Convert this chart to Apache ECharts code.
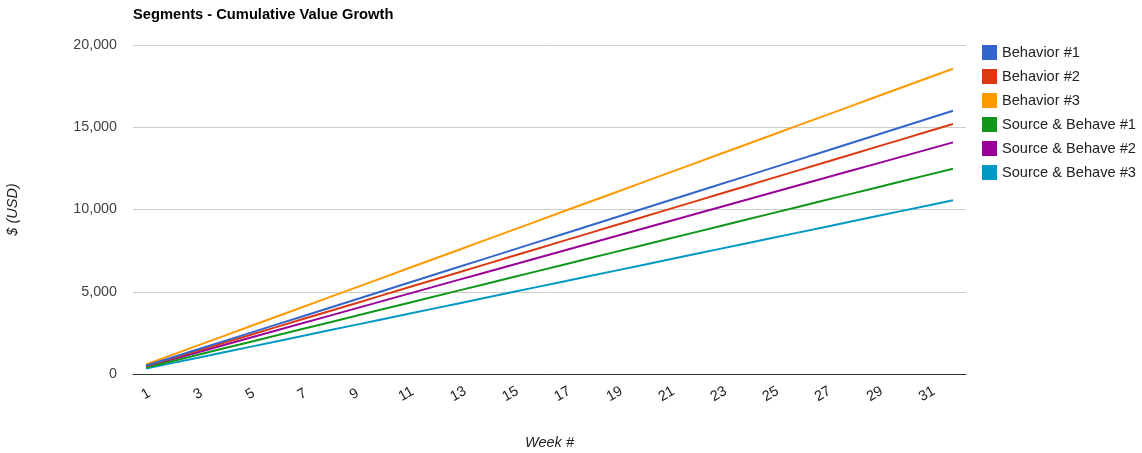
<!DOCTYPE html>
<html>
<head>
<meta charset="utf-8">
<script src="https://cdn.jsdelivr.net/npm/echarts@6/dist/echarts.min.js"></script>
<style>html,body{margin:0;padding:0;background:#fff}#c{width:1142px;height:453px}</style>
</head>
<body>
<div id="c"></div>
<script>
const weeks = ['1','2','3','4','5','6','7','8','9','10','11','12','13','14','15','16','17','18','19','20','21','22','23','24','25','26','27','28','29','30','31','32'];
const seriesNames = ['Behavior #1','Behavior #2','Behavior #3','Source & Behave #1','Source & Behave #2','Source & Behave #3'];
const behavior1 = [500,1000,1500,2000,2500,3000,3500,4000,4500,5000,5500,6000,6500,7000,7500,8000,8500,9000,9500,10000,10500,11000,11500,12000,12500,13000,13500,14000,14500,15000,15500,16000];
const behavior2 = [475,950,1425,1900,2375,2850,3325,3800,4275,4750,5225,5700,6175,6650,7125,7600,8075,8550,9025,9500,9975,10450,10925,11400,11875,12350,12825,13300,13775,14250,14725,15200];
const behavior3 = [580,1160,1740,2320,2900,3480,4060,4640,5220,5800,6380,6960,7540,8120,8700,9280,9860,10440,11020,11600,12180,12760,13340,13920,14500,15080,15660,16240,16820,17400,17980,18560];
const sourceBehave1 = [390,780,1170,1560,1950,2340,2730,3120,3510,3900,4290,4680,5070,5460,5850,6240,6630,7020,7410,7800,8190,8580,8970,9360,9750,10140,10530,10920,11310,11700,12090,12480];
const sourceBehave2 = [440,880,1320,1760,2200,2640,3080,3520,3960,4400,4840,5280,5720,6160,6600,7040,7480,7920,8360,8800,9240,9680,10120,10560,11000,11440,11880,12320,12760,13200,13640,14080];
const sourceBehave3 = [330,660,990,1320,1650,1980,2310,2640,2970,3300,3630,3960,4290,4620,4950,5280,5610,5940,6270,6600,6930,7260,7590,7920,8250,8580,8910,9240,9570,9900,10230,10560];
const allData = [behavior1, behavior2, behavior3, sourceBehave1, sourceBehave2, sourceBehave3];
const colors = ['#3366cc','#dc3912','#ff9900','#109618','#990099','#0099c6'];

const chart = echarts.init(document.getElementById('c'), null, {renderer:'canvas'});
const font = 'Arial, "Liberation Sans", sans-serif';
chart.setOption({
  animation: false,
  color: colors,
  textStyle: {fontFamily: font},
  title: {
    text: 'Segments - Cumulative Value Growth',
    left: 133, top: 7, padding: 0,
    textStyle: {fontSize: 14.7, fontWeight: 'bold', color: '#000', fontFamily: font}
  },
  legend: {
    orient: 'vertical',
    left: 982, top: 45, padding: 0,
    icon: 'rect',
    itemWidth: 15, itemHeight: 15, itemGap: 9,
    textStyle: {fontSize: 14.6, color: '#222', fontFamily: font},
    data: seriesNames
  },
  grid: {left: 133, right: 176, top: 45, bottom: 79, containLabel: false, outerBoundsMode: 'none'},
  xAxis: {
    type: 'category',
    data: weeks,
    boundaryGap: true,
    name: 'Week #',
    nameLocation: 'middle',
    nameGap: 61,
    nameTextStyle: {fontSize: 14.5, fontStyle: 'italic', color: '#222', fontFamily: font},
    axisLine: {lineStyle: {color: '#333', width: 1}},
    axisTick: {show: false},
    axisLabel: {interval: 1, rotate: 30, fontSize: 14.3, color: '#222', margin: 20, align: 'center', verticalAlign: 'middle', fontFamily: font}
  },
  yAxis: {
    type: 'value',
    min: 0, max: 20000, interval: 5000,
    name: '$ (USD)',
    nameLocation: 'middle',
    nameGap: 113,
    nameRotate: 90,
    nameTextStyle: {fontSize: 14.5, fontStyle: 'italic', color: '#222', fontFamily: font},
    axisLine: {show: false},
    axisTick: {show: false},
    axisLabel: {fontSize: 14.3, color: '#444', margin: 16, fontFamily: font, formatter: v => v.toLocaleString('en-US')},
    splitLine: {lineStyle: {color: '#cccccc', width: 1}}
  },
  series: seriesNames.map((n, i) => ({
    name: n,
    type: 'line',
    data: allData[i],
    showSymbol: false,
    symbol: 'none',
    lineStyle: {width: 2},
    z: 10 - i
  }))
});
</script>
</body>
</html>
